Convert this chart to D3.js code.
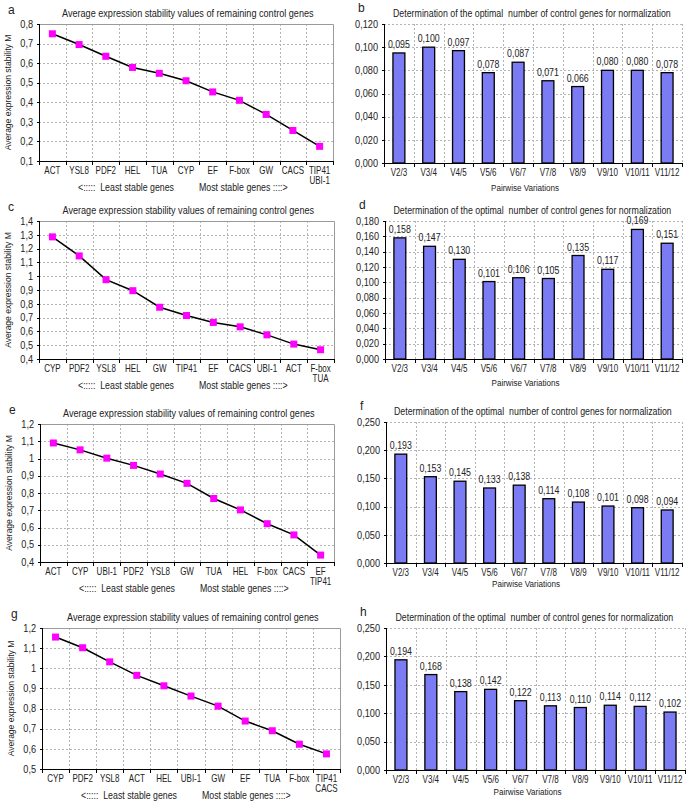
<!DOCTYPE html>
<html lang="en">
<head>
<meta charset="UTF-8">
<title>geNorm stability panels</title>
<script src="https://cdnjs.cloudflare.com/ajax/libs/d3/7.8.5/d3.min.js"></script>
<style>
	body { margin: 0; background: #fff; font-family: "Liberation Sans", Arial, sans-serif; }
	.grid { stroke: #b4b4b4; stroke-width: 1; stroke-dasharray: 2,2; }
	.axis path, .axis line { stroke: #000; shape-rendering: crispEdges; }
	.axis text { font-size: 10px; fill: #222; }
	text { fill: #222; }
</style>
</head>
<body>
<script>
	// ---- data ----
	const pairLabels = ["V2/3", "V3/4", "V4/5", "V5/6", "V6/7", "V7/8", "V8/9", "V9/10", "V10/11", "V11/12"];

	const genesA = ["ACT", "YSL8", "PDF2", "HEL", "TUA", "CYP", "EF", "F-box", "GW", "CACS", "TIP41\nUBI-1"];
	const stabilityA = [0.750, 0.695, 0.635, 0.578, 0.548, 0.510, 0.453, 0.410, 0.338, 0.256, 0.175];
	const pairwiseB = [0.095, 0.100, 0.097, 0.078, 0.087, 0.071, 0.066, 0.080, 0.080, 0.078];

	const genesC = ["CYP", "PDF2", "YSL8", "HEL", "GW", "TIP41", "EF", "CACS", "UBI-1", "ACT", "F-box\nTUA"];
	const stabilityC = [1.285, 1.147, 0.975, 0.895, 0.775, 0.715, 0.665, 0.633, 0.575, 0.508, 0.467];
	const pairwiseD = [0.158, 0.147, 0.130, 0.101, 0.106, 0.105, 0.135, 0.117, 0.169, 0.151];

	const genesE = ["ACT", "CYP", "UBI-1", "PDF2", "YSL8", "GW", "TUA", "HEL", "F-box", "CACS", "EF\nTIP41"];
	const stabilityE = [1.090, 1.050, 1.002, 0.960, 0.910, 0.856, 0.768, 0.702, 0.622, 0.557, 0.440];
	const pairwiseF = [0.193, 0.153, 0.145, 0.133, 0.138, 0.114, 0.108, 0.101, 0.098, 0.094];

	const genesG = ["CYP", "PDF2", "YSL8", "ACT", "HEL", "UBI-1", "GW", "EF", "TUA", "F-box", "TIP41\nCACS"];
	const stabilityG = [1.155, 1.102, 1.032, 0.965, 0.913, 0.862, 0.812, 0.738, 0.690, 0.623, 0.575];
	const pairwiseH = [0.194, 0.168, 0.138, 0.142, 0.122, 0.113, 0.110, 0.114, 0.112, 0.102];

	const lineTitle = "Average expression stability values of remaining control genes";
	const barTitle = "Determination of the optimal  number of control genes for normalization";

	const svg = d3.select("body").append("svg")
		.attr("width", 689)
		.attr("height", 803);

	const comma = s => s.replace(".", ",");

	// the source figure has horizontally squeezed lettering, so text is scaled in x
	function label(g, x, y, str, size, k, anchor) {
		return g.append("text")
			.attr("transform", `translate(${x},${y}) scale(${k},1)`)
			.attr("text-anchor", anchor || "start")
			.attr("font-size", size)
			.attr("xml:space", "preserve")
			.text(str);
	}

	function fitWidth(t, x, y, w) {
		const natural = t.node().getComputedTextLength();
		t.attr("transform", `translate(${x},${y}) scale(${w / natural},1)`);
	}

	function yAxis(g, p, y, ticks, fmt) {
		const a = g.append("g").attr("class", "axis")
			.attr("transform", `translate(${p.left + 0.5},0)`)
			.call(d3.axisLeft(y).tickValues(ticks).tickSize(3).tickPadding(4).tickFormat(fmt))
			.call(a => a.select(".domain").attr("d", `M0,${p.top}V${p.bottom}`));
		a.selectAll(".tick text").attr("transform", "scale(0.92,1)");
	}

	function xBase(g, p, x, cats) {
		g.append("line")
			.attr("x1", p.left).attr("x2", p.right + 1)
			.attr("y1", p.bottom + 0.5).attr("y2", p.bottom + 0.5)
			.attr("stroke", "#000");
		g.selectAll(".xtick").data(cats.map(d => x(d)).concat([p.right])).join("line")
			.attr("x1", d => Math.round(d) + 0.5).attr("x2", d => Math.round(d) + 0.5)
			.attr("y1", p.bottom).attr("y2", p.bottom + 4)
			.attr("stroke", "#000");
	}

	function lineChart(p, letter, genes, values, yMin, yMax, yStep) {
		const g = svg.append("g");
		const x = d3.scaleBand().domain(genes).range([p.left, p.right]);
		const y = d3.scaleLinear().domain([yMin, yMax]).range([p.bottom, p.top]);
		const ticks = d3.range(yMin, yMax + yStep / 2, yStep);

		g.selectAll(".hgrid").data(ticks.slice(1, -1)).join("line")
			.attr("class", "grid")
			.attr("x1", p.left).attr("x2", p.right)
			.attr("y1", d => Math.round(y(d)) + 0.5).attr("y2", d => Math.round(y(d)) + 0.5);
		g.selectAll(".vgrid").data(genes.slice(1)).join("line")
			.attr("class", "grid")
			.attr("x1", d => Math.round(x(d)) + 0.5).attr("x2", d => Math.round(x(d)) + 0.5)
			.attr("y1", p.top).attr("y2", p.bottom);
		// plot area border (top, right)
		g.append("path")
			.attr("d", `M${p.left},${p.top + 0.5}H${p.right + 0.5}V${p.bottom}`)
			.attr("fill", "none").attr("stroke", "#9a9a9a");

		yAxis(g, p, y, ticks, d => comma(String(+d.toFixed(2))));
		xBase(g, p, x, genes);

		genes.forEach(c => {
			c.split("\n").forEach((t, i) => {
				label(g, x(c) + x.bandwidth() / 2, p.bottom + 13 + i * 10, t, 10, 0.8, "middle");
			});
		});

		const line = d3.line().x((d, i) => x(genes[i]) + x.bandwidth() / 2).y(d => y(d));
		g.append("path").datum(values)
			.attr("d", line)
			.attr("fill", "none").attr("stroke", "#000").attr("stroke-width", 1.5);
		g.selectAll(".mark").data(values).join("rect")
			.attr("x", (d, i) => x(genes[i]) + x.bandwidth() / 2 - 3.5)
			.attr("y", d => y(d) - 3.5)
			.attr("width", 7).attr("height", 7)
			.attr("fill", "#ff00ff");

		label(g, p.left - 31, p.top - 10, letter, 12, 1);
		const tx = (p.left + p.right) / 2 - 124;
		fitWidth(label(g, tx, p.top - 7, lineTitle, 10.5, 1), tx, p.top - 7, 252);
		g.append("text")
			.attr("transform", `translate(${p.left - 28},${(p.top + p.bottom) / 2}) rotate(-90) scale(0.9,1)`)
			.attr("text-anchor", "middle").attr("font-size", 9.5)
			.text("Average expression stability M");
		label(g, p.left + 39, p.bottom + 30, "<:::::  Least stable genes", 10, 0.88);
		label(g, p.left + 160, p.bottom + 30, "Most stable genes ::::>", 10, 0.88);
	}

	function barChart(p, letter, values, yMax, yStep) {
		const g = svg.append("g");
		const x = d3.scaleBand().domain(pairLabels).range([p.left, p.right]);
		const y = d3.scaleLinear().domain([0, yMax]).range([p.bottom, p.top]);
		const ticks = d3.range(0, yMax + yStep / 2, yStep);

		g.selectAll(".hgrid").data(ticks.slice(1)).join("line")
			.attr("class", "grid")
			.attr("x1", p.left).attr("x2", p.right)
			.attr("y1", d => Math.round(y(d)) + 0.5).attr("y2", d => Math.round(y(d)) + 0.5);
		g.selectAll(".vgrid").data(pairLabels.slice(1).map(d => x(d)).concat([p.right])).join("line")
			.attr("class", "grid")
			.attr("x1", d => Math.round(d) + 0.5).attr("x2", d => Math.round(d) + 0.5)
			.attr("y1", p.top).attr("y2", p.bottom);

		yAxis(g, p, y, ticks, d => comma(d.toFixed(3)));
		xBase(g, p, x, pairLabels);

		pairLabels.forEach(c => {
			label(g, x(c) + x.bandwidth() / 2, p.bottom + 13, c, 10, 0.8, "middle");
		});

		const bw = x.bandwidth() * 0.4;
		g.selectAll(".bar").data(values).join("rect")
			.attr("x", (d, i) => x(pairLabels[i]) + x.bandwidth() / 2 - bw / 2)
			.attr("y", d => y(d))
			.attr("width", bw)
			.attr("height", d => p.bottom - y(d))
			.attr("fill", "#7b7bf3").attr("stroke", "#000").attr("stroke-width", 1.3);
		values.forEach((d, i) => {
			label(g, x(pairLabels[i]) + x.bandwidth() / 2, y(d) - 5, comma(d.toFixed(3)), 10, 0.88, "middle");
		});

		label(g, p.left - 26, p.top - 12, letter, 12, 1);
		const tx = (p.left + p.right) / 2 - 140;
		fitWidth(label(g, tx, p.top - 7, barTitle, 10.5, 1), tx, p.top - 7, 278);
		label(g, (p.left + p.right) / 2 - 8, p.bottom + p.capY, "Pairwise Variations", 9.5, 0.85, "middle");
	}

	lineChart({ left: 39, right: 333, top: 24, bottom: 161 }, "a", genesA, stabilityA, 0.1, 0.8, 0.1);
	barChart({ left: 384, right: 682, top: 24, bottom: 163, capY: 28 }, "b", pairwiseB, 0.12, 0.02);
	lineChart({ left: 39, right: 334, top: 221, bottom: 359 }, "c", genesC, stabilityC, 0.4, 1.4, 0.1);
	barChart({ left: 385, right: 682, top: 221, bottom: 359, capY: 27 }, "d", pairwiseD, 0.18, 0.02);
	lineChart({ left: 40, right: 334, top: 424, bottom: 562 }, "e", genesE, stabilityE, 0.4, 1.2, 0.1);
	barChart({ left: 386, right: 682, top: 422, bottom: 563, capY: 24 }, "f", pairwiseF, 0.25, 0.05);
	lineChart({ left: 42, right: 340, top: 628, bottom: 769 }, "g", genesG, stabilityG, 0.5, 1.2, 0.1);
	barChart({ left: 386, right: 685, top: 628, bottom: 770, capY: 25 }, "h", pairwiseH, 0.25, 0.05);
</script>
</body>
</html>
